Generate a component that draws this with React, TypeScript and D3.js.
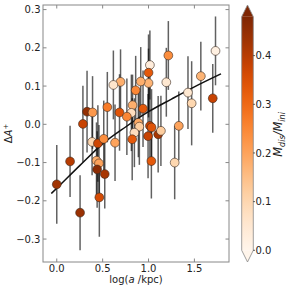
import { useEffect, useRef } from "react";
import * as d3 from "d3";

// log(a/kpc), ΔA+, error, M_dis/M_ini
const logA = [
  1.73, 1.7, 1.57, 1.43, 1.47, 1.216, 1.194, 1.33, 1.015, 1.0, 1.0, 0.915,
  0.86, 0.826, 0.94, 0.813, 0.695, 0.617, 0.551, 0.684, 0.764, 0.33, 0.39,
  0.285, 0.889, 0.9, 0.846, 0.385, 0.448, 0.512, 0.635, 0.822, 0.995, 1.015,
  1.033, 1.105, 1.135, 1.031, 1.285, 0.433, 0.46, 0.44, 0.523, 0.145, 0.0,
  0.464, 0.254,
];
const deltaA = [
  0.192, 0.068, 0.126, 0.083, 0.055, 0.18, 0.11, -0.004, 0.155, 0.135, 0.108,
  0.112, 0.089, 0.05, 0.041, 0.03, 0.111, 0.103, 0.045, 0.031, 0.02, 0.033,
  0.031, 0.001, 0.004, -0.006, -0.022, -0.046, -0.05, -0.038, -0.048, -0.039,
  -0.031, -0.004, -0.008, -0.026, -0.017, -0.096, -0.1, -0.095, -0.102,
  -0.118, -0.13, -0.097, -0.157, -0.191, -0.231,
];
const deltaAErr = [
  0.09, 0.09, 0.09, 0.095, 0.11, 0.09, 0.09, 0.09, 0.09, 0.1, 0.09, 0.09,
  0.09, 0.08, 0.1, 0.1, 0.085, 0.09, 0.092, 0.1, 0.1, 0.107, 0.095, 0.1, 0.09,
  0.1, 0.09, 0.087, 0.1, 0.1, 0.1, 0.107, 0.11, 0.1, 0.1, 0.1, 0.092, 0.098,
  0.096, 0.1, 0.1, 0.1, 0.09, 0.093, 0.103, 0.103, 0.098,
];
const massRatio = [
  0.02, 0.38, 0.17, 0.05, 0.1, 0.24, 0.05, 0.2, 0.03, 0.33, 0.17, 0.18, 0.25,
  0.18, 0.33, 0.08, 0.18, 0.06, 0.27, 0.34, 0.25, 0.45, 0.22, 0.38, 0.19,
  0.12, 0.08, 0.1, 0.37, 0.24, 0.2, 0.33, 0.38, 0.38, 0.34, 0.42, 0.12, 0.33,
  0.1, 0.18, 0.2, 0.46, 0.42, 0.4, 0.43, 0.36, 0.44,
];

// fitted relation
const fitX = [-0.06, 0.0, 0.25, 0.5, 0.75, 1.0, 1.25, 1.5, 1.79];
const fitY = [-0.181, -0.167, -0.108, -0.051, -0.007, 0.033, 0.066, 0.098, 0.132];

const xTicks = [0, 0.5, 1.0, 1.5];
const yTicks = [-0.3, -0.2, -0.1, 0, 0.1, 0.2, 0.3];
const cbTicks = [0, 0.1, 0.2, 0.3, 0.4];

const App = () => {
  const ref = useRef<SVGSVGElement>(null);

  useEffect(() => {
    const left = 43;
    const right = 229;
    const top = 5;
    const bottom = 262;
    const font = "DejaVu Sans, sans-serif";
    const spine = "#888";

    const svg = d3.select(ref.current);
    svg.selectAll("*").remove();

    const x = d3.scaleLinear().domain([-0.15, 1.877]).range([left, right]);
    const y = d3.scaleLinear().domain([-0.36, 0.312]).range([bottom, top]);
    const color = d3.scaleSequential(d3.interpolateOranges).domain([0, 0.48]);

    svg
      .append("clipPath")
      .attr("id", "plotclip")
      .append("rect")
      .attr("x", left)
      .attr("y", top)
      .attr("width", right - left)
      .attr("height", bottom - top);

    const plot = svg.append("g").attr("clip-path", "url(#plotclip)");

    const idx = d3.range(logA.length);

    // error bars
    plot
      .selectAll("line.err")
      .data(idx)
      .enter()
      .append("line")
      .attr("class", "err")
      .attr("x1", (i) => x(logA[i]))
      .attr("x2", (i) => x(logA[i]))
      .attr("y1", (i) => y(deltaA[i] - deltaAErr[i]))
      .attr("y2", (i) => y(deltaA[i] + deltaAErr[i]))
      .attr("stroke", "#000")
      .attr("stroke-opacity", 0.62)
      .attr("stroke-width", 1.5);

    // fit line
    const line = d3
      .line<number>()
      .x((i) => x(fitX[i]))
      .y((i) => y(fitY[i]))
      .curve(d3.curveMonotoneX);

    plot
      .append("path")
      .datum(d3.range(fitX.length))
      .attr("d", line)
      .attr("fill", "none")
      .attr("stroke", "#111")
      .attr("stroke-width", 1.5);

    plot
      .selectAll("circle")
      .data(idx)
      .enter()
      .append("circle")
      .attr("cx", (i) => x(logA[i]))
      .attr("cy", (i) => y(deltaA[i]))
      .attr("r", 4.4)
      .attr("fill", (i) => color(massRatio[i]))
      .attr("stroke", "#3a2a20")
      .attr("stroke-width", 0.6);

    // frame
    svg
      .append("rect")
      .attr("x", left)
      .attr("y", top)
      .attr("width", right - left)
      .attr("height", bottom - top)
      .attr("fill", "none")
      .attr("stroke", spine)
      .attr("stroke-width", 1);

    // ticks pointing in, on all sides
    const tickLen = 3.5;
    xTicks.forEach((t) => {
      svg.append("line").attr("x1", x(t)).attr("x2", x(t)).attr("y1", bottom).attr("y2", bottom - tickLen).attr("stroke", spine);
      svg.append("line").attr("x1", x(t)).attr("x2", x(t)).attr("y1", top).attr("y2", top + tickLen).attr("stroke", spine);
      svg
        .append("text")
        .attr("x", x(t))
        .attr("y", 272)
        .attr("text-anchor", "middle")
        .attr("font-family", font)
        .attr("font-size", 10)
        .attr("fill", "#222")
        .text(d3.format(".1f")(t));
    });
    yTicks.forEach((t) => {
      svg.append("line").attr("x1", left).attr("x2", left + tickLen).attr("y1", y(t)).attr("y2", y(t)).attr("stroke", spine);
      svg.append("line").attr("x1", right).attr("x2", right - tickLen).attr("y1", y(t)).attr("y2", y(t)).attr("stroke", spine);
      svg
        .append("text")
        .attr("x", 40.5)
        .attr("y", y(t) + 3.6)
        .attr("text-anchor", "end")
        .attr("font-family", font)
        .attr("font-size", 10)
        .attr("fill", "#222")
        .text(d3.format(".1f")(t));
    });

    // axis labels
    const xl = svg
      .append("text")
      .attr("x", (left + right) / 2)
      .attr("y", 283)
      .attr("text-anchor", "middle")
      .attr("font-family", font)
      .attr("font-size", 10)
      .attr("fill", "#222");
    xl.append("tspan").text("log(");
    xl.append("tspan").attr("font-style", "italic").text("a");
    xl.append("tspan").text(" /kpc)");

    const yl = svg
      .append("text")
      .attr("transform", `translate(12,${(top + bottom) / 2}) rotate(-90)`)
      .attr("text-anchor", "middle")
      .attr("font-family", font)
      .attr("font-size", 10)
      .attr("fill", "#222");
    yl.append("tspan").text("Δ");
    yl.append("tspan").attr("font-style", "italic").text("A");
    yl.append("tspan").attr("font-size", 7).attr("dy", -4).text("+");

    // colorbar
    const cbL = 241.7;
    const cbW = 11.6;
    const cb = d3.scaleLinear().domain([0, 0.48]).range([250.3, 16.7]);

    const grad = svg
      .append("defs")
      .append("linearGradient")
      .attr("id", "cbgrad")
      .attr("x1", 0)
      .attr("y1", 1)
      .attr("x2", 0)
      .attr("y2", 0);
    d3.range(0, 1.0001, 0.05).forEach((f) => {
      grad
        .append("stop")
        .attr("offset", f)
        .attr("stop-color", d3.interpolateOranges(f));
    });

    svg
      .append("rect")
      .attr("x", cbL)
      .attr("y", cb(0.48))
      .attr("width", cbW)
      .attr("height", cb(0) - cb(0.48))
      .attr("fill", "url(#cbgrad)");
    svg
      .append("path")
      .attr("d", `M${cbL},${cb(0.48)}L${cbL + cbW / 2},${top}L${cbL + cbW},${cb(0.48)}Z`)
      .attr("fill", d3.interpolateOranges(1));
    svg
      .append("path")
      .attr("d", `M${cbL},${cb(0)}L${cbL + cbW / 2},${bottom}L${cbL + cbW},${cb(0)}Z`)
      .attr("fill", d3.interpolateOranges(0));
    svg
      .append("path")
      .attr(
        "d",
        `M${cbL},${cb(0.48)}L${cbL + cbW / 2},${top}L${cbL + cbW},${cb(0.48)}L${cbL + cbW},${cb(0)}L${cbL + cbW / 2},${bottom}L${cbL},${cb(0)}Z`,
      )
      .attr("fill", "none")
      .attr("stroke", spine)
      .attr("stroke-width", 0.8);

    cbTicks.forEach((t) => {
      svg
        .append("line")
        .attr("x1", cbL + cbW)
        .attr("x2", cbL + cbW + 1.5)
        .attr("y1", cb(t))
        .attr("y2", cb(t))
        .attr("stroke", "#333");
      svg
        .append("text")
        .attr("x", 255.5)
        .attr("y", cb(t) + 3.6)
        .attr("font-family", font)
        .attr("font-size", 10)
        .attr("fill", "#222")
        .text(d3.format(".1f")(t));
    });

    const cl = svg
      .append("text")
      .attr("transform", `translate(282,${(top + bottom) / 2 + 1}) rotate(-90)`)
      .attr("text-anchor", "middle")
      .attr("font-family", font)
      .attr("font-size", 11.5)
      .attr("font-style", "italic")
      .attr("fill", "#222");
    cl.append("tspan").text("M");
    cl.append("tspan").attr("font-size", 8).attr("dy", 2.5).text("dis");
    cl.append("tspan").attr("dy", -2.5).text("/M");
    cl.append("tspan").attr("font-size", 8).attr("dy", 2.5).text("ini");

    return () => {
      d3.select(ref.current).selectAll("*").remove();
    };
  }, []);

  return (
    <svg
      ref={ref}
      width={291}
      height={291}
      style={{ position: "absolute", left: 0, top: 0, background: "#fff" }}
    />
  );
};

export default App;
